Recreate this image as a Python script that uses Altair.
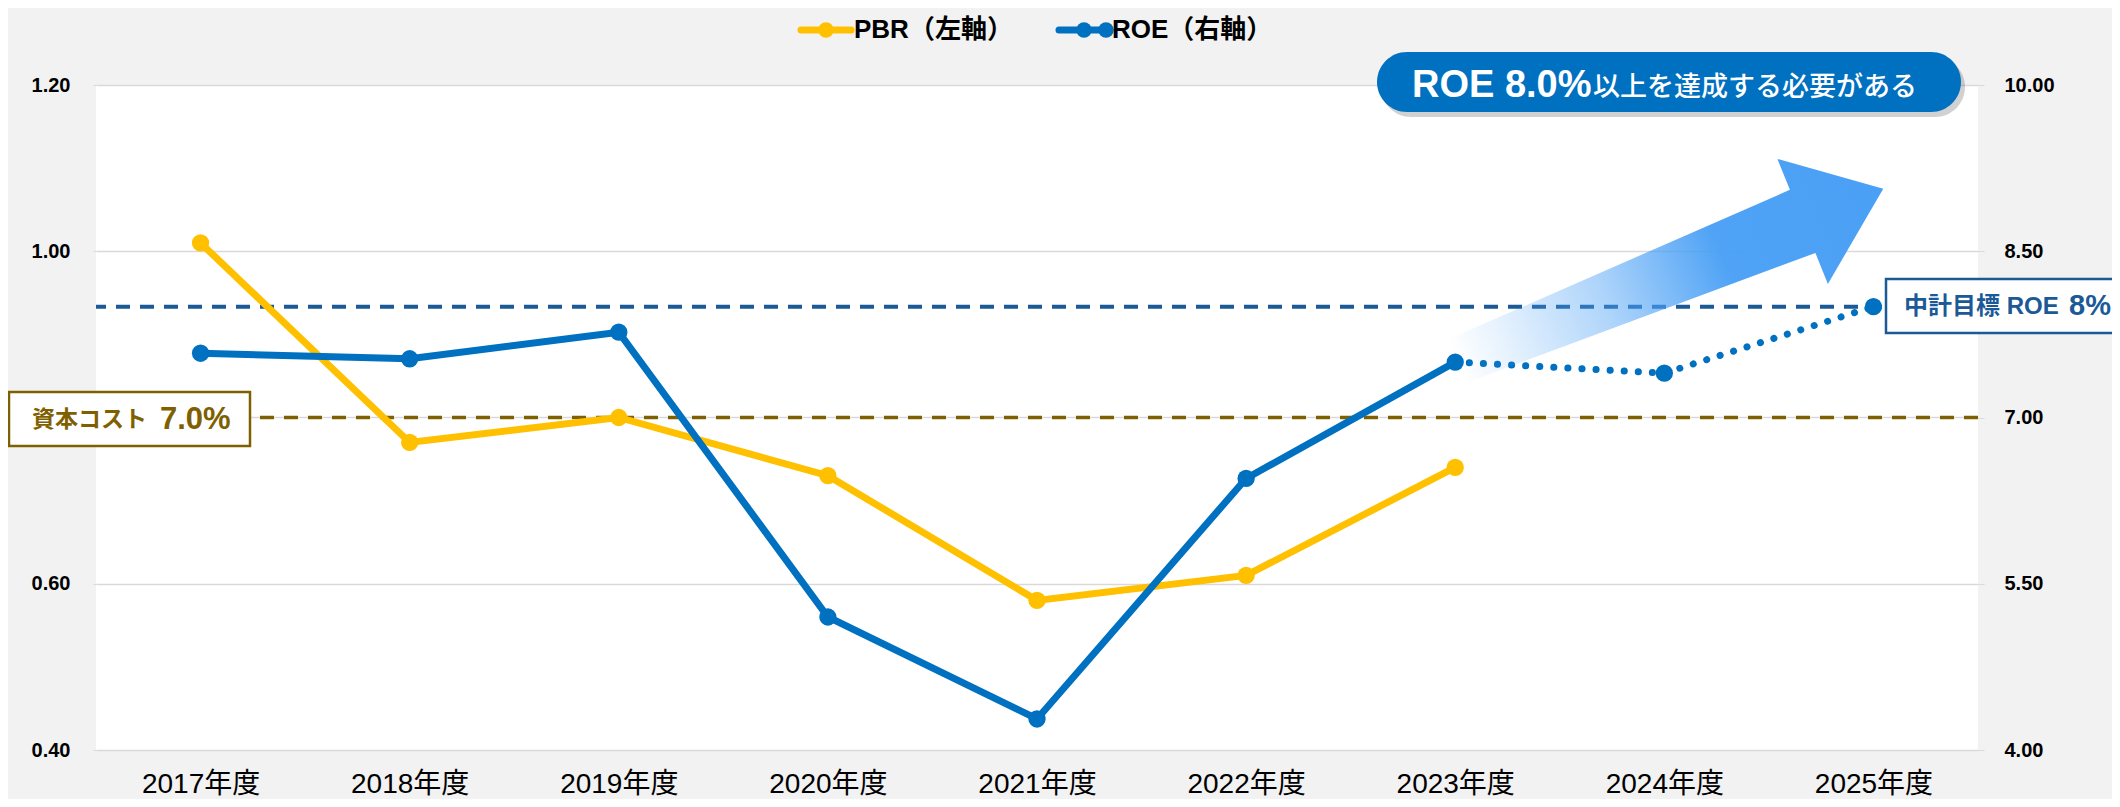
import altair as alt
import pandas as pd

# ---------------- data ----------------
years = ["2017年度", "2018年度", "2019年度", "2020年度", "2021年度",
         "2022年度", "2023年度", "2024年度", "2025年度"]
pbr_years = years[:7]
pbr = [1.01, 0.77, 0.80, 0.73, 0.58, 0.61, 0.74]
roe_actual_years = years[:7]
roe_actual = [7.58, 7.53, 7.77, 5.20, 4.28, 6.45, 7.50]
roe_plan_years = ["2023年度", "2024年度", "2025年度"]
roe_plan = [7.50, 7.40, 8.00]
cost_of_capital = [7.0]
roe_target = [8.0]
pbr_ticks = [0.40, 0.60, 0.80, 1.00, 1.20]
roe_ticks = [4.0, 5.5, 7.0, 8.5, 10.0]
pbr_domain = [0.4, 1.2]
roe_domain = [4.0, 10.0]

legend_labels = ["PBR（左軸）", "ROE（右軸）"]
banner_main = "ROE 8.0%"
banner_rest = "以上を達成する必要がある"
cost_label = "資本コスト"
cost_value = "7.0%"
target_label = "中計目標 ROE"
target_value = "8%"

# ---------------- style ----------------
YELLOW = "#FFC000"
BLUE = "#0070C0"
BROWN = "#7F6000"
NAVY = "#1B5A97"
GRID = "#D9D9D9"
FONT = "Liberation Sans, Arial, Noto Sans CJK JP, sans-serif"
CJK = "Noto Sans CJK JP, sans-serif"

W, H = 1882, 665

pbr_df = pd.DataFrame({"year": pbr_years, "value": pbr})
roe_df = pd.DataFrame({"year": roe_actual_years, "value": roe_actual})
plan_df = pd.DataFrame({"year": roe_plan_years, "value": roe_plan})
roe_pts_df = pd.concat([roe_df, plan_df.iloc[1:]], ignore_index=True)
one = pd.DataFrame({"k": [0]})

x_enc = alt.X(
    "year:N",
    sort=years,
    scale=alt.Scale(type="point", domain=years, padding=0.5),
    axis=alt.Axis(title=None, labelFont=FONT, labelFontSize=28, labelColor="black",
                  labelPadding=20, ticks=False, domain=False, grid=False, labelAngle=0),
)

# the 0.80 label is hidden behind the cost-of-capital box in the reference
pbr_axis = alt.Axis(orient="left", values=pbr_ticks, title=None,
                    labelExpr="(datum.value > 0.79 && datum.value < 0.81) ? '' : format(datum.value, '.2f')",
                    labelFont=FONT, labelFontSize=20, labelFontWeight="bold",
                    labelColor="black", labelPadding=23, tickSize=3, tickColor=GRID,
                    domain=False, grid=True, gridColor=GRID, gridWidth=1.5)
roe_axis = alt.Axis(orient="right", values=roe_ticks, format=".2f", title=None,
                    labelFont=FONT, labelFontSize=20, labelFontWeight="bold",
                    labelColor="black", labelPadding=20, tickSize=6, tickColor=GRID,
                    domain=False, grid=False)
pbr_scale = alt.Scale(domain=pbr_domain, nice=False, zero=False)
roe_scale = alt.Scale(domain=roe_domain, nice=False, zero=False)

# reference rules (own y scale, no axis)
rule_target = alt.Chart(pd.DataFrame({"v": roe_target})).mark_rule(
    color=NAVY, strokeWidth=4, strokeDash=[14, 10]
).encode(y=alt.Y("v:Q", scale=roe_scale, axis=None))
rule_cost = alt.Chart(pd.DataFrame({"v": cost_of_capital})).mark_rule(
    color=BROWN, strokeWidth=3.5, strokeDash=[14, 10]
).encode(y=alt.Y("v:Q", scale=roe_scale, axis=None))
rules = alt.layer(rule_target, rule_cost)

# PBR
pbr_base = alt.Chart(pbr_df).encode(x=x_enc, y=alt.Y("value:Q", scale=pbr_scale, axis=pbr_axis))
pbr_group = alt.layer(
    pbr_base.mark_line(color=YELLOW, strokeWidth=7),
    pbr_base.mark_circle(color=YELLOW, size=300, opacity=1),
)

# ROE
y_roe = alt.Y("value:Q", scale=roe_scale, axis=roe_axis)
roe_group = alt.layer(
    alt.Chart(roe_df).mark_line(color=BLUE, strokeWidth=7).encode(x=x_enc, y=y_roe),
    alt.Chart(plan_df).mark_line(color=BLUE, strokeWidth=7, strokeDash=[0.1, 14],
                                 strokeCap="round").encode(x=x_enc, y=y_roe),
    alt.Chart(roe_pts_df).mark_circle(color=BLUE, size=300, opacity=1).encode(x=x_enc, y=y_roe),
)

# gradient arrow
ARROW = "M -1 -0.102 L 0.622 -0.148 L 0.622 -0.293 L 1 0 L 0.622 0.293 L 0.622 0.148 L -1 0.102 Z"
grad = alt.Gradient(
    gradient="linear", x1=0, y1=0, x2=1, y2=0,
    stops=[
        alt.GradientStop(color="rgba(74,160,245,0)", offset=0),
        alt.GradientStop(color="rgba(74,160,245,0.12)", offset=0.1),
        alt.GradientStop(color="rgba(74,160,245,0.45)", offset=0.35),
        alt.GradientStop(color="rgba(74,160,245,0.97)", offset=0.62),
        alt.GradientStop(color="#4AA0F5", offset=1),
    ],
)
arrow = alt.Chart(one).mark_point(
    shape=ARROW, size=460 * 460, angle=338, fill=grad, filled=True, opacity=1, strokeWidth=0
).encode(x=alt.value(1574), y=alt.value(190))

# banner
banner_shadow = alt.Chart(one).mark_rect(cornerRadius=30, color="#000000", opacity=0.18).encode(
    x=alt.value(1285), x2=alt.value(1869), y=alt.value(-28), y2=alt.value(32))
banner = alt.Chart(one).mark_rect(cornerRadius=30, color=BLUE).encode(
    x=alt.value(1281), x2=alt.value(1865), y=alt.value(-33), y2=alt.value(27))
banner_t1 = alt.Chart(one).mark_text(
    text=banner_main, align="left", baseline="alphabetic", font=FONT, fontSize=38,
    fontWeight="bold", color="white").encode(x=alt.value(1316), y=alt.value(12))
banner_t2 = alt.Chart(one).mark_text(
    text=banner_rest, align="left", baseline="alphabetic", font=CJK, fontSize=27,
    fontWeight=500, color="white").encode(x=alt.value(1497), y=alt.value(11))

# cost of capital box
cost_box = alt.Chart(one).mark_rect(fill="white", stroke=BROWN, strokeWidth=2.5).encode(
    x=alt.value(-87), x2=alt.value(154), y=alt.value(307), y2=alt.value(361))
cost_t1 = alt.Chart(one).mark_text(
    text=cost_label, align="left", baseline="middle", font=CJK, fontSize=23,
    fontWeight="bold", color=BROWN).encode(x=alt.value(-64), y=alt.value(335))
cost_t2 = alt.Chart(one).mark_text(
    text=cost_value, align="left", baseline="middle", font=FONT, fontSize=31,
    fontWeight="bold", color=BROWN).encode(x=alt.value(64), y=alt.value(335))

# target box
tgt_box = alt.Chart(one).mark_rect(fill="white", stroke=NAVY, strokeWidth=2.5).encode(
    x=alt.value(1790), x2=alt.value(2022), y=alt.value(194), y2=alt.value(248))
tgt_t1 = alt.Chart(one).mark_text(
    text=target_label, align="left", baseline="middle", font=FONT, fontSize=24,
    fontWeight="bold", color=NAVY).encode(x=alt.value(1808), y=alt.value(222))
tgt_t2 = alt.Chart(one).mark_text(
    text=target_value, align="left", baseline="middle", font=FONT, fontSize=29,
    fontWeight="bold", color=NAVY).encode(x=alt.value(1973), y=alt.value(221))

# legend
LY = -55
leg = [
    alt.Chart(one).mark_rule(color=YELLOW, strokeWidth=7, strokeCap="round").encode(
        x=alt.value(705), x2=alt.value(755), y=alt.value(LY)),
    alt.Chart(one).mark_circle(color=YELLOW, size=240, opacity=1).encode(
        x=alt.value(730), y=alt.value(LY)),
    alt.Chart(one).mark_text(text=legend_labels[0], align="left", baseline="middle", font=FONT,
                             fontSize=26, fontWeight="bold", color="black").encode(
        x=alt.value(758), y=alt.value(LY)),
    alt.Chart(one).mark_rule(color=BLUE, strokeWidth=7, strokeCap="round").encode(
        x=alt.value(963), x2=alt.value(1010), y=alt.value(LY)),
    alt.Chart(one).mark_circle(color=BLUE, size=240, opacity=1).encode(
        x=alt.value(988), y=alt.value(LY)),
    alt.Chart(one).mark_circle(color=BLUE, size=240, opacity=1).encode(
        x=alt.value(1010), y=alt.value(LY)),
    alt.Chart(one).mark_text(text=legend_labels[1], align="left", baseline="middle", font=FONT,
                             fontSize=26, fontWeight="bold", color="black").encode(
        x=alt.value(1016), y=alt.value(LY)),
]

chart = alt.layer(
    rules, pbr_group, roe_group, arrow,
    banner_shadow, banner, banner_t1, banner_t2,
    cost_box, cost_t1, cost_t2,
    tgt_box, tgt_t1, tgt_t2,
    *leg,
).resolve_scale(y="independent").properties(
    width=W, height=H,
    padding={"left": 88, "top": 77, "right": 134, "bottom": 49},
    autosize=alt.AutoSizeParams(type="none"),
    background="#F2F2F2",
).configure_view(fill="white", strokeWidth=0)

chart.save("out.html", embed_options={"renderer": "svg", "actions": False})
